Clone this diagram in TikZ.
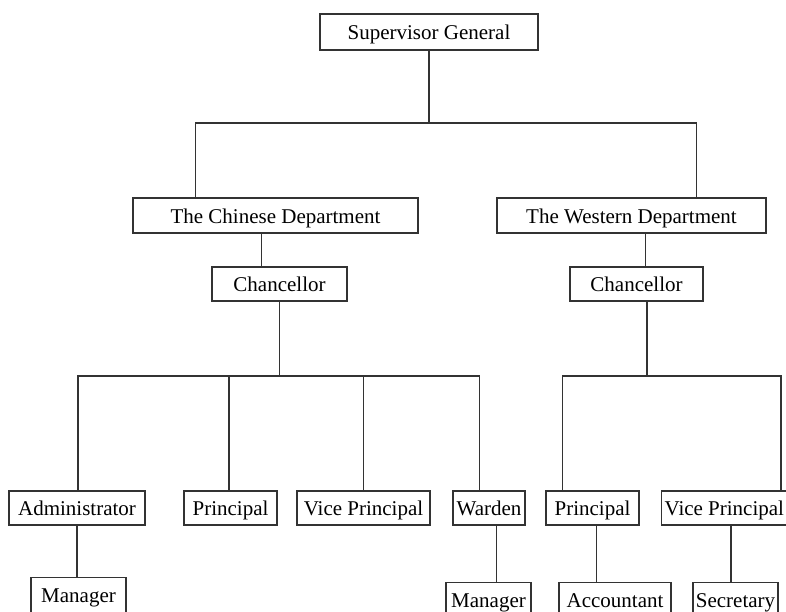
\documentclass[tikz,border=0pt]{standalone}
\usepackage{fontspec}
\setmainfont{Liberation Serif}
\usetikzlibrary{calc}
\usetikzlibrary{positioning}

\tikzset{
    unit/.style={draw=black!80, line width=1.2pt, fill=white, inner sep=0pt,
        minimum height=34pt, text height=17pt, text depth=2pt,
        font=\fontsize{21}{24}\selectfont},
    staff/.style={unit, anchor=north, minimum height=46pt, text depth=14pt},
    link/.style={draw=black!80, line width=1.2pt}
}

\begin{document}
\begin{tikzpicture}[x=1pt, y=-1pt]
        \useasboundingbox (0,0) rectangle (786,611);
        \clip (0,0) rectangle (786,611);
        % Top level
        \node[unit, minimum width=218pt, minimum height=36pt] (sup) at (429,32) {Supervisor General};
        % Departments
        \node[unit, minimum width=285pt, minimum height=35pt] (chi) at (275.5,215.5) {The Chinese Department};
        \node[unit, minimum width=269pt, minimum height=35pt] (wes) at (631.5,215.5) {The Western Department};
        \node[unit, minimum width=135pt] (chanC) at (279.5,284) {Chancellor};
        \node[unit, minimum width=133pt] (chanW) at (636.5,284) {Chancellor};
        % Offices
        \foreach \name/\x/\w/\txt in {adm/77/136/Administrator, priC/230.5/93/Principal,
                vpC/363.5/133/Vice Principal, war/489/72/Warden, priW/592.5/93/Principal} {
            \node[unit, minimum width=\w pt] (\name) at (\x,508) {\txt};
        }
        \node[unit, anchor=west] (vpW) at (661,508) {\hspace*{3pt}Vice Principal\hspace*{10pt}};
        % Staff (cut by the lower edge)
        \node[staff, minimum width=95pt] (manC) at (78.5,577) {Manager};
        \foreach \name/\x/\w/\txt in {manW/488.5/85/Manager, acc/615/112/Accountant,
                sec/735.5/85/Secretary} {
            \node[staff, minimum width=\w pt] (\name) at (\x,582) {\txt};
        }
        % Buses
        \coordinate (busT) at (429,123);
        \coordinate (busC) at (279.5,376);
        \coordinate (busW) at (647,376);
        \draw[link] (sup.south) -- (busT);
        \draw[link] ([xshift=63pt]chi.north west) |- (busT) -| ([xshift=200pt]wes.north west);
        \draw[link] ([xshift=50pt]chanC.north west) -- ([xshift=50pt]chanC.north west |- chi.south);
        \draw[link] ([xshift=76pt]chanW.north west) -- ([xshift=76pt]chanW.north west |- wes.south);
        % Chinese side
        \draw[link] (chanC.south) -- (busC);
        \draw[link] ([xshift=1pt]adm.north) |- (busC) -| ([xshift=27pt]war.north west);
        \draw[link] ([xshift=-1.5pt]priC.north) -- ([xshift=-1.5pt]priC.north |- busC);
        \draw[link] (vpC.north) -- (vpC.north |- busC);
        \draw[link] (adm.south) -- (adm.south |- manC.north);
        \draw[link] ([xshift=44pt]war.south west) -- ([xshift=44pt]war.south west |- manW.north);
        % Western side
        \draw[link] ([xshift=10.5pt]chanW.south) -- (busW);
        \draw[link] ([xshift=17pt]priW.north west) |- (busW) -| ([xshift=120pt]vpW.north west);
        \draw[link] ([xshift=51pt]priW.south west) -- ([xshift=51pt]priW.south west |- acc.north);
        \draw[link] ([xshift=70pt]vpW.south west) -- ([xshift=70pt]vpW.south west |- sec.north);
\end{tikzpicture}
\end{document}
